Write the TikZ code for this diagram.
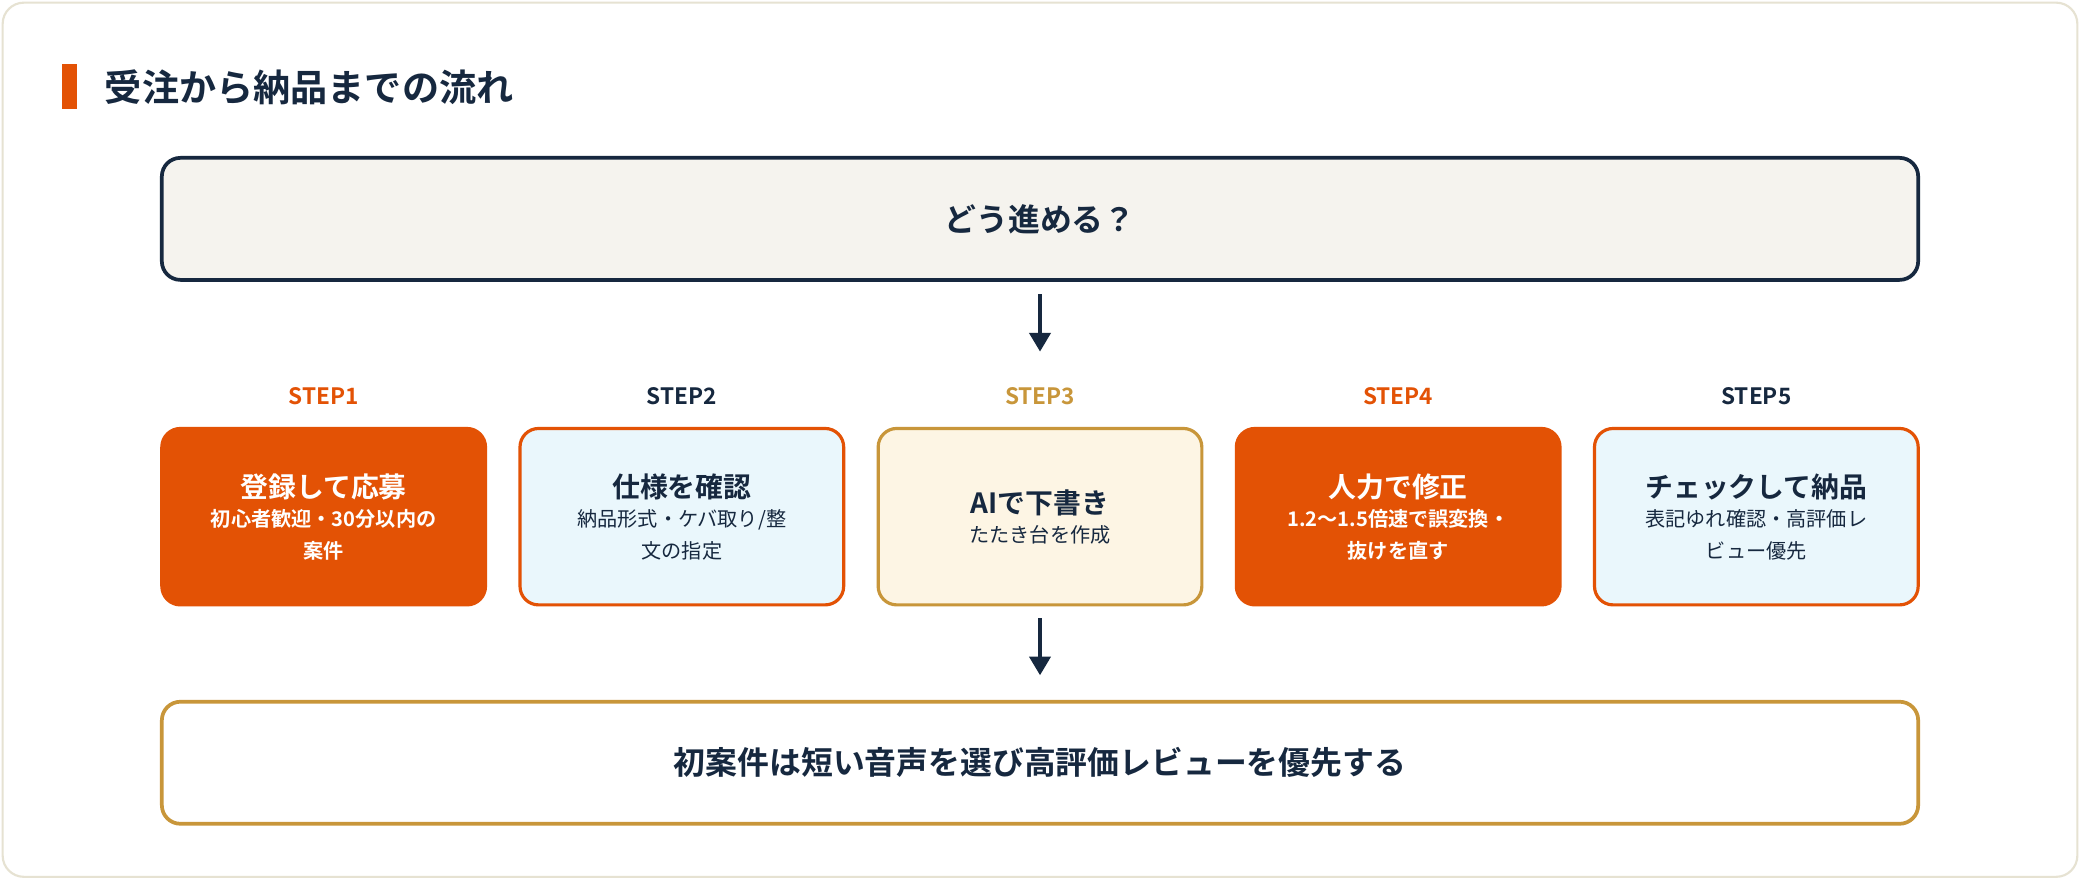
\documentclass[tikz,border=0pt]{standalone}
\usepackage{fontspec}
\setmainfont{Noto Sans CJK JP}[BoldFont={* Bold}]
\usetikzlibrary{arrows.meta}
\definecolor{navy}{HTML}{16283F}
\definecolor{org}{HTML}{E35205}
\definecolor{gold}{HTML}{C8963A}
\definecolor{lblue}{HTML}{EAF7FC}
\definecolor{cream}{HTML}{FDF5E4}
\definecolor{gray1}{HTML}{F5F3EE}
\definecolor{edge}{HTML}{E6E2D2}
\newcommand\mytitlefont{\bfseries\fontsize{10.5}{14}\selectfont}
\newcommand\mysubfont{\fontsize{7.6}{15}\selectfont}
\begin{document}
\begin{tikzpicture}[x=0.5pt,y=-0.5pt,
  big/.style={draw=navy,line width=1.4pt,rounded corners=7pt,minimum width=662pt,minimum height=46pt,font=\bfseries\fontsize{12}{14}\selectfont,text=navy},
  sbox/.style={line width=1.2pt,rounded corners=7pt,minimum width=122pt,minimum height=66.5pt,align=center,inner sep=1pt},
  lab/.style={font=\bfseries\fontsize{8.5}{10}\selectfont},
  arr/.style={draw=navy,line width=1.2pt,-{Triangle[length=7pt,width=8pt]}}]
\useasboundingbox (0,0) rectangle (1568,663);
\fill[white] (0,0) rectangle (1568,663);
\node[draw=edge,fill=white,line width=0.8pt,rounded corners=8pt,minimum width=782pt,minimum height=329.5pt] (card) at (784,331.5) {};
\fill[org] (47,48) rectangle (58,82);
\node[anchor=west,text=navy,font=\bfseries\fontsize{14}{16}\selectfont] (title) at (72,66) {受注から納品までの流れ};
\node[big,fill=gray1] (top) at (784,165) {どう進める？};
\node[lab,text=org] (l1) at (244,299) {STEP1};
\node[lab,text=navy] (l2) at (514,299) {STEP2};
\node[lab,text=gold] (l3) at (784,299) {STEP3};
\node[lab,text=org] (l4) at (1054,299) {STEP4};
\node[lab,text=navy] (l5) at (1324,299) {STEP5};
\node[sbox,fill=org,draw=org,text=white] (s1) at (244,389.5) {\mytitlefont 登録して応募\\[-1pt]\mysubfont\bfseries 初心者歓迎・30分以内の\\\mysubfont\bfseries 案件};
\node[sbox,fill=lblue,draw=org,text=navy] (s2) at (514,389.5) {\mytitlefont 仕様を確認\\[-1pt]\mysubfont 納品形式・ケバ取り/整\\\mysubfont 文の指定};
\node[sbox,fill=cream,draw=gold,text=navy] (s3) at (784,389.5) {\mytitlefont AIで下書き\\[-1pt]\mysubfont たたき台を作成};
\node[sbox,fill=org,draw=org,text=white] (s4) at (1054,389.5) {\mytitlefont 人力で修正\\[-1pt]\mysubfont\bfseries 1.2〜1.5倍速で誤変換・\\\mysubfont\bfseries 抜けを直す};
\node[sbox,fill=lblue,draw=org,text=navy] (s5) at (1324,389.5) {\mytitlefont チェックして納品\\[-1pt]\mysubfont 表記ゆれ確認・高評価レ\\\mysubfont ビュー優先};
\node[big,fill=white,draw=gold] (bot) at (784,575) {初案件は短い音声を選び高評価レビューを優先する};
\coordinate (a1) at (784,222);
\coordinate (a2) at (784,265);
\coordinate (b1) at (784,466);
\coordinate (b2) at (784,509);
\draw[arr] (a1) -- (a2);
\draw[arr] (b1) -- (b2);
\end{tikzpicture}
\end{document}
